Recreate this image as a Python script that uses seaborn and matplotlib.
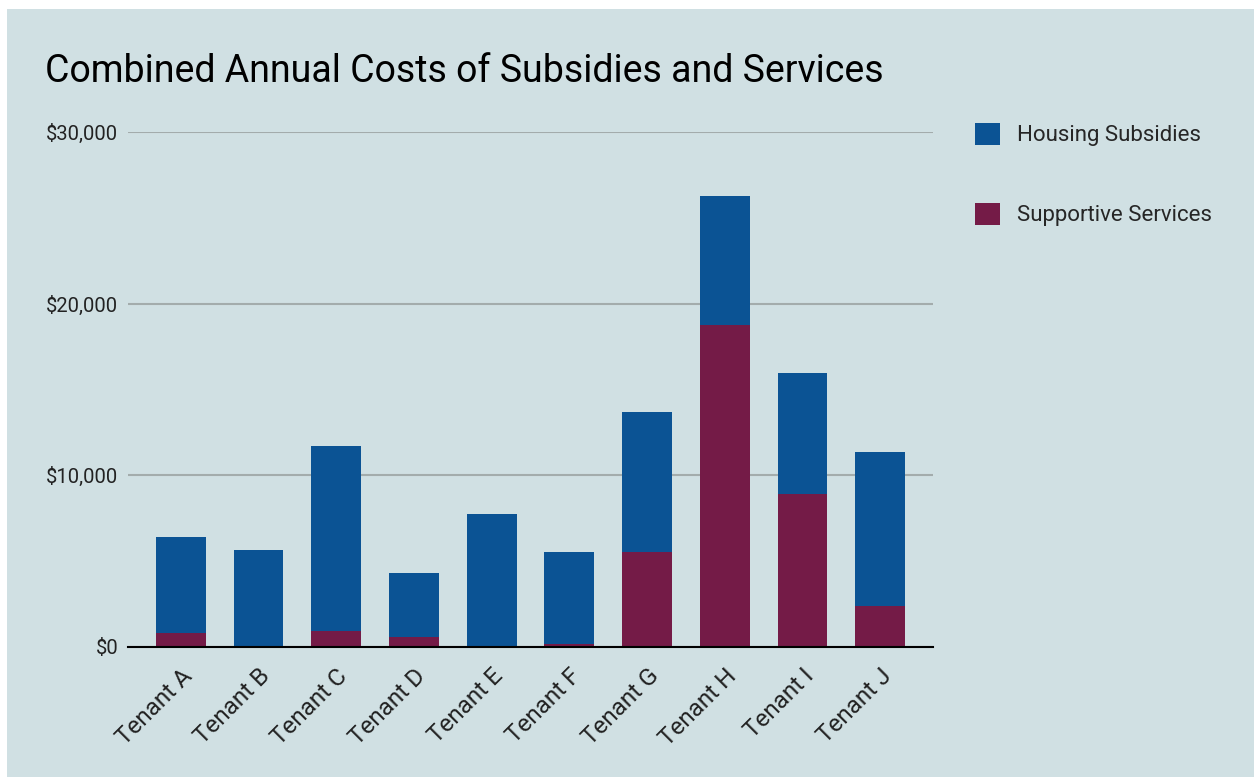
import matplotlib
matplotlib.use("Agg")
import matplotlib.pyplot as plt
import matplotlib.patches as mpatches
from matplotlib.ticker import FuncFormatter
from matplotlib.transforms import ScaledTranslation
import pandas as pd
import seaborn as sns

tenants = ["Tenant A", "Tenant B", "Tenant C", "Tenant D", "Tenant E",
           "Tenant F", "Tenant G", "Tenant H", "Tenant I", "Tenant J"]
housing = [5570, 5650, 10780, 3770, 7730, 5330, 8140, 7530, 7010, 8950]
supportive = [820, 0, 930, 560, 0, 200, 5530, 18740, 8930, 2390]
y_ticks = [0, 10000, 20000, 30000]

bg = "#d0e0e3"
blue = "#0b5394"
maroon = "#741b47"

df = pd.DataFrame({"tenant": tenants, "housing": housing, "supportive": supportive})
df["total"] = df["housing"] + df["supportive"]

sns.set_style("white")
plt.rcParams["font.family"] = ["Roboto", "DejaVu Sans"]

fig = plt.figure(figsize=(12.54, 7.77), dpi=100, facecolor="white")
# light panel behind everything, leaving a thin white margin top/left
fig.patches.append(mpatches.Rectangle((7 / 1254, 0), 1, 1 - 9 / 777,
                                      transform=fig.transFigure,
                                      facecolor=bg, edgecolor="none", zorder=-10))

ax = fig.add_axes([128 / 1254, 1 - 647 / 777, 805 / 1254, 515 / 777])
ax.set_facecolor(bg)

# stacked: total in blue, supportive drawn over it from zero
sns.barplot(data=df, x="tenant", y="total", color=blue, width=0.64,
            saturation=1, linewidth=0, ax=ax, zorder=2)
sns.barplot(data=df, x="tenant", y="supportive", color=maroon, width=0.64,
            saturation=1, linewidth=0, ax=ax, zorder=3)

ax.set_ylim(0, 30000)
ax.set_xlim(-0.68, 9.68)
ax.set_yticks(y_ticks)
ax.yaxis.set_major_formatter(FuncFormatter(lambda v, p: f"${v:,.0f}"))
ax.grid(axis="y", color="#a3acac", linewidth=1.5, zorder=0)
ax.set_axisbelow(True)
for s in ["top", "right", "left"]:
    ax.spines[s].set_visible(False)
ax.spines["bottom"].set_color("black")
ax.spines["bottom"].set_linewidth(1.5)
ax.spines["bottom"].set_zorder(5)
ax.tick_params(axis="both", length=0, colors="#222222")
ax.tick_params(axis="y", pad=7, labelsize=14.5)
ax.tick_params(axis="x", pad=18.5)
shift = ScaledTranslation(8 / 100, 0, fig.dpi_scale_trans)
for lab in ax.get_xticklabels():
    lab.set_rotation(45)
    lab.set_ha("right")
    lab.set_va("center")
    lab.set_rotation_mode("anchor")
    lab.set_fontsize(17.5)
    lab.set_transform(lab.get_transform() + shift)
ax.set_xlabel("")
ax.set_ylabel("")

fig.text(45 / 1254, 1 - 71 / 777, "Combined Annual Costs of Subsidies and Services",
         fontsize=27, va="center", ha="left", color="black")

handles = [mpatches.Patch(facecolor=blue, edgecolor="none", label="Housing Subsidies"),
           mpatches.Patch(facecolor=maroon, edgecolor="none", label="Supportive Services")]
fig.legend(handles=handles, loc="upper left", bbox_to_anchor=(955 / 1254, 1 - 103 / 777),
           frameon=False, fontsize=16, handlelength=1.13, handleheight=1.13,
           labelspacing=2.54, handletextpad=0.75)

fig.savefig("out.png", dpi=100, facecolor=fig.get_facecolor())
